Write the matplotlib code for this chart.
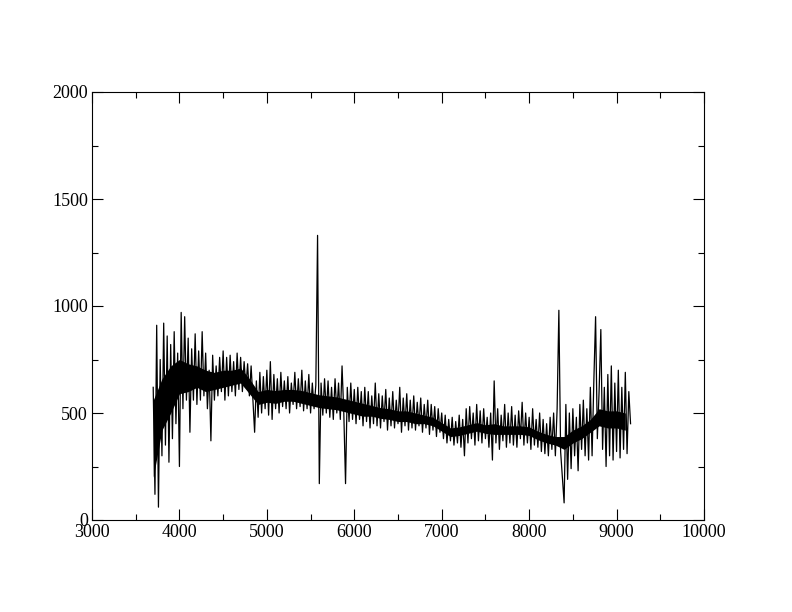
import numpy as np
import matplotlib
matplotlib.use('Agg')
import matplotlib.pyplot as plt
from matplotlib.ticker import MultipleLocator

# wavelength grid (Angstrom) and flux, alternating
# upper / lower excursions of the noisy trace
wave = np.arange(3700, 9161, 20)
flux = [
    620, 120, 910, 60, 750, 300, 920, 350, 860, 270,   # 3700
    820, 380, 880, 450, 780, 250, 970, 520, 950, 560,   # 3900
    850, 410, 800, 560, 870, 540, 790, 560, 880, 580,   # 4100
    780, 520, 700, 370, 770, 560, 720, 580, 760, 600,   # 4300
    790, 560, 760, 580, 770, 600, 740, 580, 780, 610,   # 4500
    760, 600, 740, 620, 730, 580, 720, 560, 410, 650,   # 4700
    480, 690, 500, 670, 520, 700, 490, 740, 470, 680,   # 4900
    520, 660, 500, 690, 530, 650, 520, 670, 500, 640,   # 5100
    540, 690, 520, 660, 530, 700, 510, 650, 520, 680,   # 5300
    500, 640, 520, 630, 1330, 170, 640, 490, 660, 500,  # 5500
    650, 480, 620, 470, 660, 500, 640, 470, 720, 500,   # 5700
    170, 620, 460, 640, 470, 610, 450, 620, 470, 600,   # 5900
    440, 620, 460, 600, 430, 580, 450, 640, 440, 590,   # 6100
    430, 580, 460, 610, 420, 570, 440, 600, 430, 560,   # 6300
    450, 620, 410, 570, 440, 590, 420, 560, 430, 580,   # 6500
    420, 550, 440, 570, 410, 540, 430, 560, 400, 540,   # 6700
    420, 530, 390, 520, 410, 500, 380, 490, 360, 470,   # 6900
    370, 480, 350, 460, 360, 490, 340, 470, 300, 520,   # 7100
    360, 530, 380, 500, 350, 540, 370, 510, 360, 520,   # 7300
    380, 480, 340, 500, 280, 650, 360, 520, 330, 490,   # 7500
    370, 540, 340, 500, 360, 530, 350, 490, 340, 510,   # 7700
    380, 550, 350, 500, 360, 480, 330, 520, 350, 470,   # 7900
    340, 500, 320, 470, 310, 450, 300, 480, 330, 500,   # 8100
    300, 520, 980, 320, 200, 80, 540, 190, 500, 240,    # 8300
    520, 300, 480, 230, 540, 330, 560, 300, 520, 280,   # 8500
    620, 300, 650, 950, 380, 600, 890, 330, 620, 250,   # 8700
    680, 300, 720, 280, 640, 320, 700, 290, 620, 330,   # 8900
    690, 310, 600, 450,                                 # 9100
]

# dense core of the trace (where it is solid black), every 100 A
core_wave = np.arange(3700, 9101, 100)
core_lo = [200, 420, 500, 590, 600, 620, 600, 610, 620, 630,
           640, 590, 540, 550, 545, 555, 555, 545, 535, 525,
           520, 515, 505, 495, 485, 485, 475, 470, 460, 460,
           450, 450, 440, 415, 390, 395, 405, 415, 405, 400,
           400, 400, 400, 395, 375, 360, 350, 330, 360, 380,
           410, 440, 430, 430, 420]
core_hi = [560, 660, 720, 750, 730, 720, 700, 690, 700, 700,
           710, 660, 600, 610, 605, 610, 610, 605, 595, 585,
           580, 575, 565, 555, 545, 535, 525, 520, 510, 510,
           500, 490, 480, 455, 430, 435, 445, 455, 445, 450,
           440, 440, 440, 435, 415, 400, 390, 390, 420, 440,
           470, 520, 510, 510, 500]

plt.rcParams['font.family'] = ['Liberation Serif', 'DejaVu Serif']

fig = plt.figure(figsize=(7.92, 6.12), dpi=100)
ax = fig.add_axes([92/792, 1-520/612, 612/792, 428/612])
ax.fill_between(core_wave, core_lo, core_hi, color='black', lw=0)
ax.plot(wave, flux, color='black', lw=0.9)

ax.set_xlim(3000, 10000)
ax.set_ylim(0, 2000)
ax.xaxis.set_major_locator(MultipleLocator(1000))
ax.xaxis.set_minor_locator(MultipleLocator(500))
ax.yaxis.set_major_locator(MultipleLocator(500))
ax.yaxis.set_minor_locator(MultipleLocator(250))
ax.tick_params(which='both', direction='in', top=True, right=True, labelsize=13, width=0.8)
ax.tick_params(which='major', length=8, pad=3)
ax.tick_params(which='minor', length=4.5)
for s in ax.spines.values():
    s.set_linewidth(0.8)

fig.savefig('out.png', dpi=100)
